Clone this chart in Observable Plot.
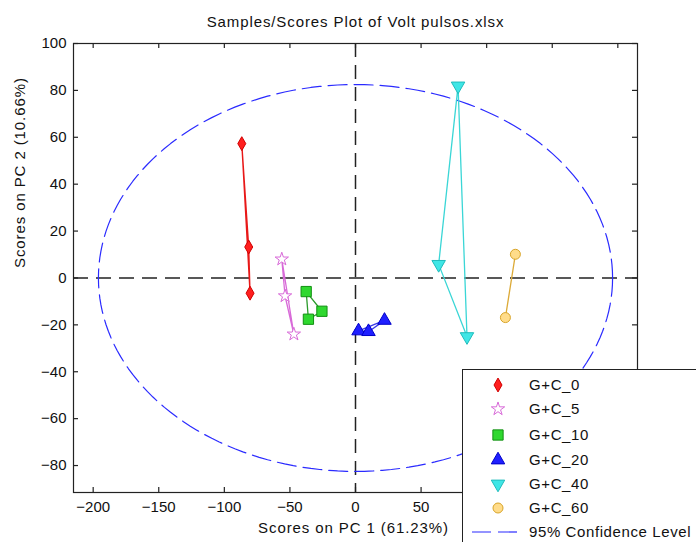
<!DOCTYPE html>
<html><head><meta charset="utf-8">
<script src="https://cdn.jsdelivr.net/npm/d3@7"></script>
<script src="https://cdn.jsdelivr.net/npm/@observablehq/plot@0.6"></script>
<style>
body{margin:0;background:#fff;overflow:hidden;font-family:"Liberation Sans",Arial,sans-serif;}
#wrap{position:relative;width:696px;height:542px;overflow:hidden;}
#legend{position:absolute;left:462px;top:369px;}
</style></head><body><div id="wrap"></div>
<script>
const groupNames = ["G+C_0","G+C_5","G+C_10","G+C_20","G+C_40","G+C_60"];
const pc1Scores = [[-86.7,-81.4,-80.4],[-56.2,-53.7,-47.0],[-37.6,-25.6,-35.9],[2.3,9.9,22.1],[78.2,63.4,85.0],[121.9,114.3]];
const pc2Scores = [[57.3,13.2,-6.5],[8.0,-7.7,-24.0],[-5.8,-14.2,-17.6],[-22.6,-22.9,-18.1],[81.9,5.8,-25.0],[10.1,-16.9]];
const xTicks = [-200,-150,-100,-50,0,50,100,150,200];
const xTickLabelsVisible = [-200,-150,-100,-50,0,50]; // the rest are hidden behind the legend
const yTicks = [-80,-60,-40,-20,0,20,40,60,80,100];
const ellipseCenter = [0,0];
const ellipseRadii = [196,82.5];
const titleText = "Samples/Scores Plot of Volt pulsos.xlsx";
const xLabel = "Scores on PC 1 (61.23%)";
const yLabel = "Scores on PC 2 (10.66%)";
const confidenceLabel = "95% Confidence Level";

const styles = [
  {symbol:"diamond", d3s:d3.symbolDiamond, fill:"#ff1f1f", stroke:"#d00000", line:"#e81818", r:4.2, rotate:0},
  {symbol:"star", d3s:d3.symbolStar, fill:"#ffffff", stroke:"#d86ad8", line:"#d86ad8", r:4.2, rotate:0},
  {symbol:"square", d3s:d3.symbolSquare, fill:"#2fd82f", stroke:"#129012", line:"#2a9a2a", r:5.8, rotate:0},
  {symbol:"triangle", d3s:d3.symbolTriangle, fill:"#1f1fff", stroke:"#0000c8", line:"#3a3ae8", r:5, rotate:0},
  {symbol:"triangle", d3s:d3.symbolTriangle, fill:"#3fe6e6", stroke:"#1fbcbc", line:"#3ad6d6", r:5, rotate:180},
  {symbol:"circle", d3s:d3.symbolCircle, fill:"#ffdc8a", stroke:"#d8a428", line:"#dcaa38", r:5, rotate:0}
];

const W = 696, H = 542, mL = 73, mR = 59, mT = 43, mB = 50;
const frameW = W - mL - mR, frameH = H - mT - mB, tickLen = 5;

const rows = groupNames.flatMap((g,i)=>pc1Scores[i].map((x,j)=>({group:g, gi:i, x, y:pc2Scores[i][j]})));
const ellipse = d3.range(0,361,2).map(a=>({x:ellipseCenter[0]+ellipseRadii[0]*Math.cos(a*Math.PI/180), y:ellipseCenter[1]+ellipseRadii[1]*Math.sin(a*Math.PI/180)}));

const groupLines = groupNames.map((g,i)=>Plot.line(rows.filter(d=>d.gi===i),{x:"x",y:"y",curve:"linear-closed",stroke:styles[i].line,strokeWidth:1.3}));
const groupDots = groupNames.map((g,i)=>Plot.dot(rows.filter(d=>d.gi===i),{x:"x",y:"y",symbol:styles[i].symbol,r:styles[i].r,rotate:styles[i].rotate,fill:styles[i].fill,stroke:styles[i].stroke,strokeWidth:1}));

const tickStyle = {stroke:"#222", strokeWidth:1.2};
const plot = Plot.plot({
  width:W, height:H,
  marginLeft:mL, marginRight:mR, marginTop:mT, marginBottom:mB,
  style:{fontFamily:"'Liberation Sans',Arial,sans-serif", fontSize:"15px", color:"#111", background:"#fff"},
  x:{domain:[-215,215]},
  y:{domain:[-91.5,100]},
  marks:[
    Plot.ruleX([0],{stroke:"#222",strokeWidth:1.5,strokeDasharray:"14,8"}),
    Plot.ruleY([0],{stroke:"#222",strokeWidth:1.5,strokeDasharray:"15,8"}),
    Plot.line(ellipse,{x:"x",y:"y",stroke:"#2a2aff",strokeWidth:1.2,strokeDasharray:"19,7"}),
    ...groupLines,
    ...groupDots,
    Plot.frame({stroke:"#222",strokeWidth:1.2}),
    // inward ticks on all four sides
    Plot.tickX(xTicks,{x:d=>d, insetTop:frameH-tickLen, ...tickStyle}),
    Plot.tickX(xTicks,{x:d=>d, insetBottom:frameH-tickLen, ...tickStyle}),
    Plot.tickY(yTicks,{y:d=>d, insetRight:frameW-tickLen, ...tickStyle}),
    Plot.tickY(yTicks,{y:d=>d, insetLeft:frameW-tickLen, ...tickStyle}),
    Plot.axisX({anchor:"bottom",ticks:xTickLabelsVisible,tickSize:0,tickPadding:9,label:null}),
    Plot.axisY({anchor:"left",ticks:yTicks,tickSize:0,tickPadding:7,label:null}),
    Plot.text([titleText],{frameAnchor:"top",dy:-21,text:d=>d,fill:"#111",lineAnchor:"middle"}),
    Plot.text([xLabel],{frameAnchor:"bottom",dy:36,dx:-2,text:d=>d,fill:"#111",lineAnchor:"middle"}),
    Plot.text([yLabel],{frameAnchor:"left",dx:-53,rotate:-90,text:d=>d,fill:"#111",lineAnchor:"middle"})
  ]
});
d3.select(plot).selectAll("g[aria-label='text'] text").attr("letter-spacing","0.9px");
document.getElementById("wrap").appendChild(plot);

// legend overlay (sits on top of the plot's lower-right corner, as in the reference)
const leg = d3.select("#wrap").append("svg").attr("id","legend").attr("width",250).attr("height",180);
leg.append("rect").attr("x",0.5).attr("y",0.5).attr("width",260).attr("height",200).attr("fill","#fff").attr("stroke","#222").attr("stroke-width",1);
const rowY = [16,40,66,91,115,139,163];
groupNames.forEach((g,i)=>{
  const s = styles[i];
  leg.append("path")
    .attr("d", d3.symbol(s.d3s, s.r*s.r*Math.PI)())
    .attr("transform",`translate(36,${rowY[i]}) rotate(${s.rotate})`)
    .attr("fill",s.fill).attr("stroke",s.stroke).attr("stroke-width",1);
  leg.append("text").attr("x",67).attr("y",rowY[i]).attr("dy","0.35em")
    .attr("font-size","15px").attr("letter-spacing","0.6px").attr("fill","#111")
    .attr("font-family","'Liberation Sans',Arial,sans-serif").text(g);
});
leg.append("line").attr("x1",10).attr("x2",61).attr("y1",rowY[6]).attr("y2",rowY[6])
  .attr("stroke","#2a2aff").attr("stroke-width",1.2).attr("stroke-dasharray","19,7");
leg.append("text").attr("x",67).attr("y",rowY[6]).attr("dy","0.35em")
  .attr("font-size","15px").attr("letter-spacing","0.6px").attr("fill","#111")
  .attr("font-family","'Liberation Sans',Arial,sans-serif").text(confidenceLabel);
</script>
</body></html>
